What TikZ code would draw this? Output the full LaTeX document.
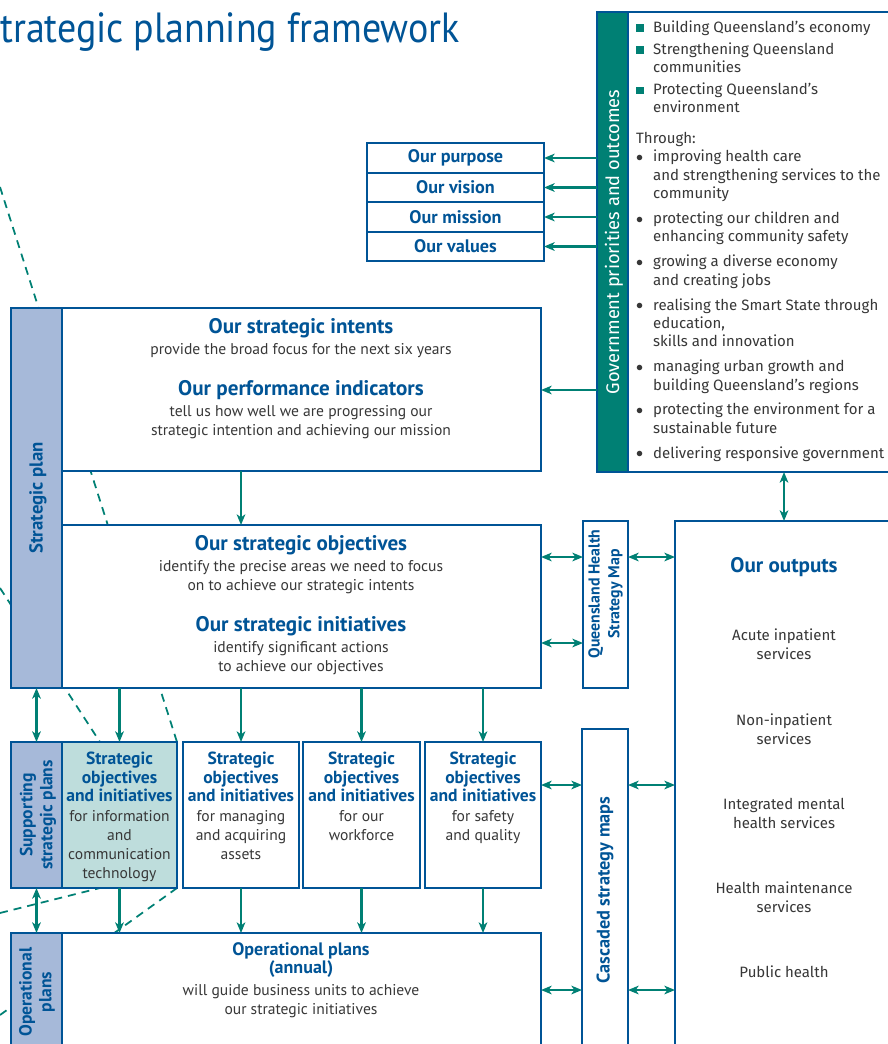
\documentclass[tikz,border=0pt]{standalone}
\usepackage{fontspec}
\setmainfont{Fira Sans}
\newfontfamily\ptsans{PT Sans}
\newfontfamily\titlefont{PT Sans}[FakeStretch=0.9]
\usepackage{array}
\usetikzlibrary{arrows.meta,positioning,calc,backgrounds}

\definecolor{qblue}{RGB}{0,84,150}
\definecolor{qteal}{RGB}{0,128,116}
\definecolor{qbar}{RGB}{166,185,217}
\definecolor{qict}{RGB}{190,221,220}
\definecolor{qtext}{RGB}{55,55,55}

\newcommand\sqmark{\textcolor{qteal}{\rule{6.5pt}{6.5pt}}}
\newcommand\dotmark{\raisebox{0.3pt}{$\bullet$}}

\begin{document}
\begin{tikzpicture}[
  x=0.03cm, y=-0.03cm,
  >={Stealth[length=3.2mm, width=2.6mm, inset=0.9mm]},
  box/.style={draw=qblue, line width=1.8pt, fill=white, inner sep=0pt, outer sep=0pt},
  bar/.style={box, fill=qbar},
  head/.style={text=qblue, inner sep=0pt, align=center,
               font=\ptsans\bfseries\fontsize{18}{20}\selectfont},
  subhead/.style={head, font=\ptsans\bfseries\fontsize{15.5}{17}\selectfont},
  soihead/.style={head, font=\ptsans\bfseries\fontsize{15}{15.7}\selectfont},
  vlabel/.style={head, rotate=90, font=\ptsans\bfseries\fontsize{15}{17}\selectfont},
  body/.style={text=qtext, inner sep=0pt, align=center,
               font=\ptsans\fontsize{13.3}{16.2}\selectfont},
  item/.style={text=qtext, inner sep=0pt, align=center, font=\fontsize{12.8}{16}\selectfont},
  ar/.style={->, draw=qteal, line width=1.8pt},
  dar/.style={<->, draw=qteal, line width=1.8pt},
  callout/.style={draw=qteal, line width=1.5pt, dash pattern=on 2.4mm off 1.8mm},
]
\useasboundingbox (0,0) rectangle (887,1044);

% title (cut off at the left edge)
\node[anchor=base west, inner sep=0pt, text=qblue,
      font=\titlefont\fontsize{36}{42}\selectfont] (title) at (0,43) {trategic planning framework};

% government priorities
\node[box, fill=qteal, minimum width=0.93cm, minimum height=13.8cm] (govbar) at (612.5,242) {};
\node[rotate=90, inner sep=0pt, text=white, font=\fontsize{15.6}{17}\selectfont]
  (govlabel) at (614,242) {Government priorities and outcomes};
\node[box, minimum width=8.16cm, minimum height=13.8cm] (govtext) at (764,242) {};
\node[anchor=north west, inner sep=0pt, text=qtext, font=\fontsize{12.8}{15.7}\selectfont]
  (govlist) at (636,19) {%
  \begin{tabular}{@{}p{14.5pt}@{}l@{}}
  \sqmark & Building Queensland’s economy\\[3pt]
  \sqmark & Strengthening Queensland\\
          & communities\\[3pt]
  \sqmark & Protecting Queensland’s\\
          & environment\\[10.6pt]
  \multicolumn{2}{@{}l@{}}{Through:}\\
  \dotmark & improving health care\\
           & and strengthening services to the\\
           & community\\[5.5pt]
  \dotmark & protecting our children and\\
           & enhancing community safety\\[5.5pt]
  \dotmark & growing a diverse economy\\
           & and creating jobs\\[5.5pt]
  \dotmark & realising the Smart State through\\
           & education,\\
           & skills and innovation\\[5.5pt]
  \dotmark & managing urban growth and\\
           & building Queensland’s regions\\[5.5pt]
  \dotmark & protecting the environment for a\\
           & sustainable future\\[5.5pt]
  \dotmark & delivering responsive government
  \end{tabular}};

% purpose, vision, mission, values
\node[box, subhead, minimum width=5.31cm, minimum height=0.885cm] (purpose) at (455.5,158) {Our purpose};
\node[box, subhead, minimum width=5.31cm, minimum height=0.885cm, below=0pt of purpose] (vision) {Our vision};
\node[box, subhead, minimum width=5.31cm, minimum height=0.885cm, below=0pt of vision] (mission) {Our mission};
\node[box, subhead, minimum width=5.31cm, minimum height=0.885cm, below=0pt of mission] (values) {Our values};

% strategic plan
\node[bar, minimum width=1.53cm, minimum height=11.4cm] (stratbar) at (36.5,498) {};
\node[vlabel, font=\ptsans\bfseries\fontsize{16}{17}\selectfont] (stratlabel) at (38,498) {Strategic plan};

\node[box, minimum width=14.37cm, minimum height=4.89cm] (intents) at (301.5,389.5) {};
\node[head] (intenthead) at (301,328) {Our strategic intents};
\node[body] (intentbody) at (301,351) {provide the broad focus for the next six years};
\node[head] (perfhead) at (301,390) {Our performance indicators};
\node[body] (perfbody) at (301,422.5) {tell us how well we are progressing our\\strategic intention and achieving our mission};

\node[box, minimum width=14.37cm, minimum height=4.89cm] (objectives) at (301.5,606.5) {};
\node[head] (objhead) at (301,545) {Our strategic objectives};
\node[body] (objbody) at (301,577.5) {identify the precise areas we need to focus\\on to achieve our strategic intents};
\node[head] (inithead) at (301,626) {Our strategic initiatives};
\node[body] (initbody) at (301,658.5) {identify significant actions\\to achieve our objectives};

% strategy maps
\node[box, minimum width=1.35cm, minimum height=5.01cm] (qhmap) at (605.5,604.5) {};
\node[vlabel, font=\ptsans\bfseries\fontsize{13.5}{17}\selectfont] (qhlabel) at (605.5,594) {Queensland Health\\Strategy Map};
\node[box, minimum width=1.38cm, minimum height=9.93cm] (cascade) at (605,894.5) {};
\node[vlabel, font=\ptsans\bfseries\fontsize{15.6}{17}\selectfont] (caslabel) at (605,890) {Cascaded strategy maps};

% outputs
\node[box, minimum width=6.75cm, minimum height=16.17cm] (outputs) at (787.5,790.5) {};
\node[head] (outhead) at (784,567) {Our outputs};
\node[item] (acute) at (784,644.5) {Acute inpatient\\services};
\node[item] (noninp) at (784,729.5) {Non-inpatient\\services};
\node[item] (mental) at (784,813.5) {Integrated mental\\health services};
\node[item] (maint) at (784,897.5) {Health maintenance\\services};
\node[item] (public) at (784,972) {Public health};

% supporting strategic plans
\node[bar, minimum width=1.53cm, minimum height=4.38cm] (suppbar) at (36.5,815) {};
\node[vlabel] (supplabel) at (38,815) {Supporting\\strategic plans};
\node[box, fill=qict, minimum width=3.45cm, minimum height=4.38cm] (ict) at (119.5,815) {};
\node[box, minimum width=3.48cm, minimum height=4.38cm] (assets) at (241,815) {};
\node[box, minimum width=3.51cm, minimum height=4.38cm] (workforce) at (361.5,815) {};
\node[box, minimum width=3.48cm, minimum height=4.38cm] (safety) at (483,815) {};

\node[soihead, anchor=north] (icthead) at (119.5,752) {Strategic\\objectives\\and initiatives};
\node[body, anchor=north] (ictbody) at (119.5,810) {for information\\and\\communication\\technology};
\node[soihead, anchor=north] (assethead) at (241,752) {Strategic\\objectives\\and initiatives};
\node[body, anchor=north] (assetbody) at (241,810) {for managing\\and acquiring\\assets};
\node[soihead, anchor=north] (workhead) at (361.5,752) {Strategic\\objectives\\and initiatives};
\node[body, anchor=north] (workbody) at (361.5,810) {for our\\workforce};
\node[soihead, anchor=north] (safehead) at (483,752) {Strategic\\objectives\\and initiatives};
\node[body, anchor=north] (safebody) at (483,810) {for safety\\and quality};

% operational plans
\node[bar, minimum width=1.53cm, minimum height=3.81cm] (opbar) at (36.5,996.5) {};
\node[vlabel] (oplabel) at (37,992) {Operational\\plans};
\node[box, minimum width=14.37cm, minimum height=3.81cm] (opplans) at (301.5,996.5) {};
\node[head, font=\ptsans\bfseries\fontsize{15.4}{15.6}\selectfont] (ophead) at (301,960) {Operational plans\\(annual)};
\node[body] (opbody) at (301,1001.5) {will guide business units to achieve\\our strategic initiatives};

% levels of the side arrows
\coordinate (lvlA) at (0,557);
\coordinate (lvlB) at (0,643);
\coordinate (lvlC) at (0,785);
\coordinate (lvlD) at (0,990);

% callout lines, behind the boxes
\coordinate (zA) at (0,187);
\coordinate (zB) at (0,588);
\coordinate (zC) at (0,913);
\coordinate (zD) at (0,1015);
\begin{scope}[on background layer]
\draw[callout] (zA) -- (ict.north east);
\draw[callout] (zB) -- ($(ict.north west)!0.33!(ict.north east)$);
\draw[callout] (zC) -- ($(ict.south west)!0.33!(ict.south east)$);
\draw[callout] (zD) -- (ict.south east);
\end{scope}

% arrows
\foreach \n in {purpose,vision,mission,values}
  \draw[ar] (govbar.west |- \n.east) -- (\n.east);
\draw[ar] (govbar.west |- perfhead) -- (intents.east |- perfhead);
\draw[ar] (intents.south -| assets.north) -- (objectives.north -| assets.north);
\foreach \n in {ict,assets,workforce,safety}{
  \draw[ar] (objectives.south -| \n.north) -- (\n.north);
  \draw[ar] (\n.south) -- (opplans.north -| \n.south);
}
\draw[dar] (stratbar.south) -- (suppbar.north);
\draw[dar] (suppbar.south) -- (opbar.north);
\draw[dar] (govtext.south -| outhead) -- (outputs.north -| outhead);
\draw[dar] (objectives.east |- lvlA) -- (qhmap.west |- lvlA);
\draw[dar] (qhmap.east |- lvlA) -- (outputs.west |- lvlA);
\draw[dar] (objectives.east |- lvlB) -- (qhmap.west |- lvlB);
\draw[dar] (safety.east |- lvlC) -- (cascade.west |- lvlC);
\draw[dar] (cascade.east |- lvlC) -- (outputs.west |- lvlC);
\draw[dar] (opplans.east |- lvlD) -- (cascade.west |- lvlD);
\draw[dar] (cascade.east |- lvlD) -- (outputs.west |- lvlD);

\end{tikzpicture}
\end{document}
